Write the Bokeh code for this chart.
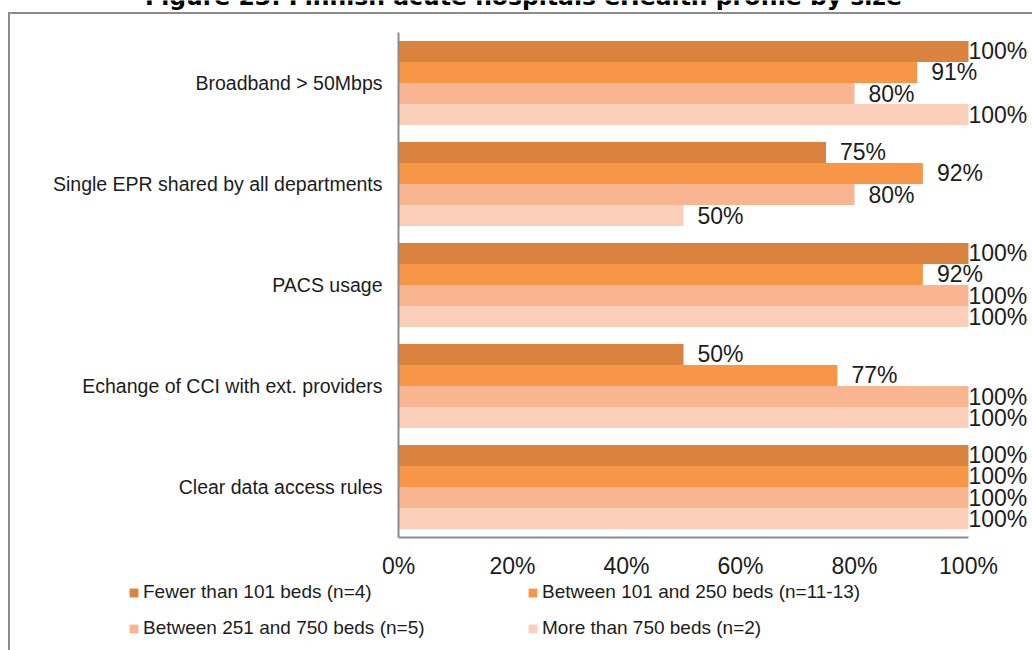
from bokeh.plotting import figure
from bokeh.models import Legend, LegendItem, ColumnDataSource, FixedTicker, Range1d
from bokeh.transform import dodge
from bokeh.core.properties import value
from bokeh.embed import file_html
from bokeh.resources import INLINE

title_text = "Figure 23: Finnish acute hospitals eHealth profile by size"
categories = [
    "Broadband > 50Mbps",
    "Single EPR shared by all departments",
    "PACS usage",
    "Echange of CCI with ext. providers",
    "Clear data access rules",
]
series_names = [
    "Fewer than 101 beds (n=4)",
    "Between 101 and 250 beds (n=11-13)",
    "Between 251 and 750 beds (n=5)",
    "More than 750 beds (n=2)",
]
fewer_than_101 = [100, 75, 100, 50, 100]
between_101_250 = [91, 92, 92, 77, 100]
between_251_750 = [80, 80, 100, 100, 100]
more_than_750 = [100, 50, 100, 100, 100]
x_ticks = [0, 20, 40, 60, 80, 100]
colors = ["#DA833E", "#F79646", "#F9B590", "#FBCFBA"]

series_values = [fewer_than_101, between_101_250, between_251_750, more_than_750]

FONT = "Liberation Sans"
TXT = "#1c1c1c"
GRAY = "#8c8c8c"
W, H = 1032, 650

# ---- page geometry (pixels): plot area 0%..100% at x 398..968, rows 32..537
X0_PX, X100_PX = 398, 968
ROW_TOP_PX, ROW_PX = 32, 101
n = len(categories)
px_per_unit_x = (X100_PX - X0_PX) / 100.0
x_start = -X0_PX / px_per_unit_x
x_end = (W - X0_PX) / px_per_unit_x
top_center_px = ROW_TOP_PX + ROW_PX / 2.0
y_top = (n - 1) + top_center_px / ROW_PX
y_bottom = (n - 1) - (H - top_center_px) / ROW_PX


def px_x(px):
    return x_start + px / px_per_unit_x


def px_y(py):
    return y_top - py / ROW_PX


cat_pos = list(range(n - 1, -1, -1))  # first category on top

p = figure(width=W, height=H,
           x_range=Range1d(x_start, x_end), y_range=Range1d(y_bottom, y_top),
           output_backend="svg", toolbar_location=None,
           min_border=0, min_border_left=0, min_border_right=0,
           min_border_top=0, min_border_bottom=0)
line = f"linear-gradient({GRAY},{GRAY})"
p.styles = {"background": (f"{line} 8px 12px / 2px 100% no-repeat, "
                           f"{line} 8px 12px / 100% 2px no-repeat, white")}
p.border_fill_color = None
p.background_fill_color = None
p.outline_line_color = None
p.grid.visible = False

bar_h = 0.208
offsets = [1.5 * bar_h, 0.5 * bar_h, -0.5 * bar_h, -1.5 * bar_h]

items = []
for name, vals, col, off in zip(series_names, series_values, colors, offsets):
    src = ColumnDataSource(dict(
        cy=cat_pos,
        val=vals,
        lab=[f"{v}%" for v in vals],
        xo=[14 if v < 100 else 0 for v in vals],
    ))
    r = p.hbar(y=dodge("cy", off), left=0, right="val",
               height=bar_h, fill_color=col, line_color=None, source=src)
    p.text(x="val", y=dodge("cy", off), text="lab",
           x_offset="xo", source=src, text_align="left", text_baseline="middle",
           text_font=value(FONT), text_font_size="23px", text_color=TXT)
    items.append(LegendItem(label=name, renderers=[r]))

# ---- axes, pinned to the plot area edges
xa = p.xaxis[0]
xa.fixed_location = -0.5
xa.ticker = FixedTicker(ticks=x_ticks)
xa.bounds = (0, 100)
xa.major_label_overrides = {t: f"{t}%" for t in x_ticks}
xa.major_tick_out = 0
xa.major_tick_in = 0
xa.minor_tick_out = 0
xa.minor_tick_in = 0
xa.axis_line_color = GRAY
xa.axis_line_width = 2
xa.major_label_standoff = 15
xa.major_label_text_font = FONT
xa.major_label_text_font_size = "23px"
xa.major_label_text_color = TXT

ya = p.yaxis[0]
ya.fixed_location = 0
ya.ticker = FixedTicker(ticks=cat_pos)
ya.bounds = (-0.5, n - 0.5)
ya.major_label_overrides = {c: cat for c, cat in zip(cat_pos, categories)}
ya.major_tick_out = 0
ya.major_tick_in = 0
ya.minor_tick_out = 0
ya.minor_tick_in = 0
ya.axis_line_color = GRAY
ya.axis_line_width = 2
ya.major_label_standoff = 16
ya.major_label_text_font = FONT
ya.major_label_text_font_size = "19.5px"
ya.major_label_text_color = TXT

# ---- legend: two columns, filled row by row (1 2 / 3 4)
legend_items = [items[0], items[2], items[1], items[3]]
legend = Legend(items=legend_items, ncols=2, location=(128, H - 640),
                glyph_width=11, glyph_height=11, label_standoff=4,
                label_height=24, label_width=372, spacing=12, padding=0,
                margin=0, border_line_color=None, background_fill_alpha=0,
                label_text_font=FONT, label_text_font_size="19px",
                label_text_color=TXT)
p.add_layout(legend)

# ---- title, cut off at the top edge as in the source page
p.text(x=[px_x(523)], y=[px_y(-4)], text=[title_text], text_align="center",
       text_baseline="alphabetic", text_font=value("DejaVu Sans"),
       text_font_style="bold", text_font_size="23.5px", text_color="black")

open("out.html", "w").write(file_html(p, INLINE))
